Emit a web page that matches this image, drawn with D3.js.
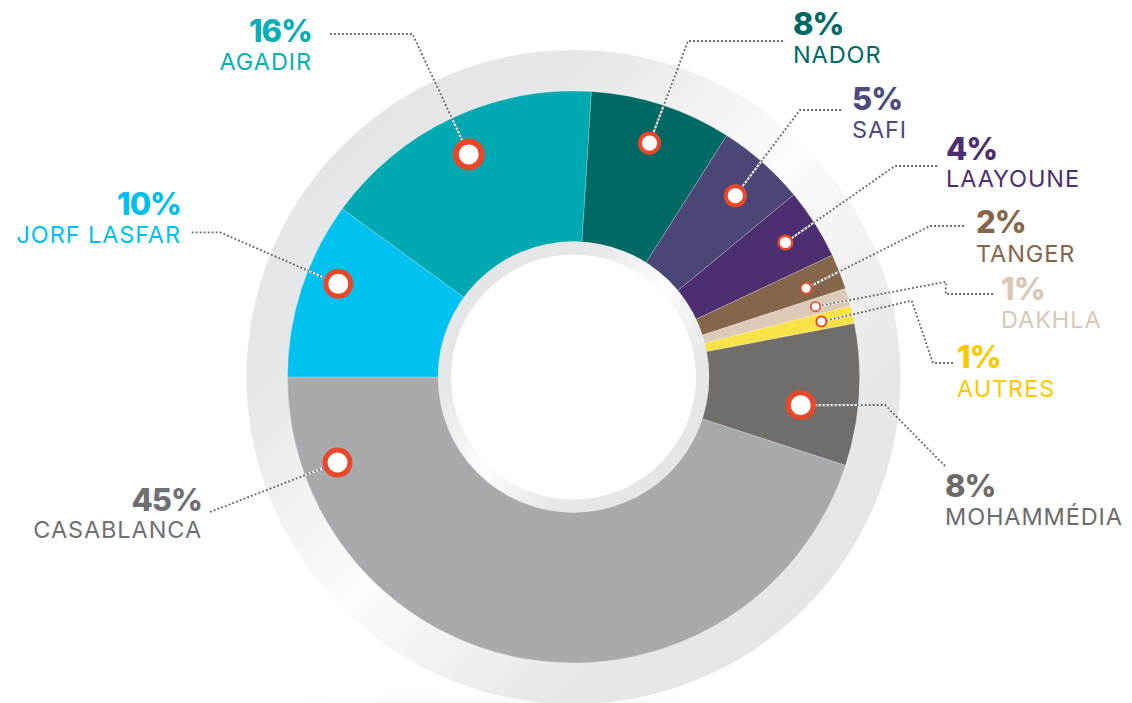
<!DOCTYPE html>
<html>
<head>
<meta charset="utf-8">
<script src="https://cdn.jsdelivr.net/npm/d3@7"></script>
<style>
  html, body { margin: 0; padding: 0; background: #ffffff; }
  svg { display: block; }
  text { font-family: "Inter", "Open Sans", sans-serif; }
</style>
</head>
<body>
<svg id="chart" width="1132" height="703"></svg>
<script>
// ---------- data ----------
const categories = ["AGADIR", "NADOR", "SAFI", "LAAYOUNE", "TANGER", "DAKHLA", "AUTRES", "MOHAMMÉDIA", "CASABLANCA", "JORF LASFAR"];
const shares = [16, 8, 5, 4, 2, 1, 1, 8, 45, 10];
const shareLabels = ["16%", "8%", "5%", "4%", "2%", "1%", "1%", "8%", "45%", "10%"];

// ---------- styles ----------
const sliceColors = ["#00a9b2", "#006963", "#4a4777", "#4b2f70", "#86664b", "#dbcab7", "#f8e246", "#716d6a", "#a8a9ad", "#00c1f0"];
const textColors  = ["#0aaeb6", "#006963", "#4d4a7c", "#4b2f70", "#86664b", "#d9c8b5", "#fcc800", "#6d6b69", "#707073", "#00bff0"];

// ---------- layout (annotation placement) ----------
const W = 1132, H = 703;
const cx = 573.5, cy = 377;
const R_OUTER_RING = 327, R_SLICE = 286, R_SLICE_IN = 128, R_INNER_RING = 135.7, R_HOLE = 122.5;

// marker: t = fraction along slice angle, r = radius, size = ring radius, sw = ring width
// label: anchor, x, yPct, yName ; leader: points from the label side towards the marker
const layout = [
  { t: 0.5,  r: 246, size: 13,  sw: 6,   anchor: "end",   x: 312,  yPct: 42,  yName: 70,  leader: [[330, 34], [412.5, 34]] },
  { t: 0.5,  r: 246, size: 9.6, sw: 4,   anchor: "start", x: 793,  yPct: 35,  yName: 63,  leader: [[783, 41], [688, 41]] },
  { t: 0.52, r: 243, size: 9.6, sw: 4,   anchor: "start", x: 852,  yPct: 110, yName: 138, leader: [[841, 110], [800, 110]] },
  { t: 0.5,  r: 251, size: 6.8, sw: 2.5, anchor: "start", x: 946,  yPct: 160, yName: 187, leader: [[937, 166], [895, 166]] },
  { t: 0.6,  r: 249, size: 5.5, sw: 2,   anchor: "start", x: 976,  yPct: 233, yName: 262, leader: [[964, 226], [930, 226]] },
  { t: 0.5,  r: 252, size: 4.7, sw: 1.7, anchor: "start", x: 1001, yPct: 300, yName: 328, leader: [[993, 294], [945.7, 294], [945.7, 281.7]] },
  { t: 0.5,  r: 254, size: 5,   sw: 2,   anchor: "start", x: 957,  yPct: 368, yName: 397, leader: [[953, 363], [933, 363], [911.7, 300.7]] },
  { t: 0.62, r: 229, size: 12.5, sw: 5,  anchor: "start", x: 945,  yPct: 497, yName: 525, leader: [[945, 466], [885, 405]] },
  { t: 0.877, r: 251, size: 12.5, sw: 5, anchor: "end",   x: 202,  yPct: 511, yName: 538, leader: [[210, 512]] },
  { t: 0.6,  r: 253, size: 12.5, sw: 5,  anchor: "end",   x: 181,  yPct: 215, yName: 243, leader: [[191.7, 232.3], [220, 232.3]] }
];

const svg = d3.select("#chart");
const defs = svg.append("defs");

function diagGradient(id, x1, y1, x2, y2, stops) {
  const g = defs.append("linearGradient").attr("id", id)
    .attr("gradientUnits", "userSpaceOnUse")
    .attr("x1", x1).attr("y1", y1).attr("x2", x2).attr("y2", y2);
  stops.forEach(s => g.append("stop").attr("offset", s[0]).attr("stop-color", s[1]));
}
diagGradient("outerRingGrad", cx - R_OUTER_RING, cy - R_OUTER_RING, cx + R_OUTER_RING, cy + R_OUTER_RING,
  [[0, "#e3e4e5"], [0.27, "#e6e7e8"], [0.5, "#fcfcfc"], [0.73, "#e6e7e8"], [1, "#e3e4e5"]]);
diagGradient("innerRingGrad", cx - R_INNER_RING, cy - R_INNER_RING, cx + R_INNER_RING, cy + R_INNER_RING,
  [[0, "#e3e4e5"], [0.3, "#e6e7e8"], [0.5, "#fdfdfd"], [0.7, "#e6e7e8"], [1, "#e3e4e5"]]);

const blur = defs.append("filter").attr("id", "shadowBlur").attr("x", "-20%").attr("y", "-200%").attr("width", "140%").attr("height", "500%");
blur.append("feGaussianBlur").attr("stdDeviation", 5);

defs.append("clipPath").attr("id", "sliceClip")
  .append("circle").attr("cx", cx).attr("cy", cy).attr("r", R_SLICE);

// shadow below the ring
svg.append("ellipse")
  .attr("cx", cx - 80).attr("cy", H + 3).attr("rx", 200).attr("ry", 7)
  .attr("fill", "#000").attr("opacity", 0.035).attr("filter", "url(#shadowBlur)");

// outer ring
svg.append("circle").attr("cx", cx).attr("cy", cy).attr("r", R_OUTER_RING).attr("fill", "url(#outerRingGrad)");

// pie
const a0 = -0.15 * 2 * Math.PI;
const pie = d3.pie().sort(null).value(d => d).startAngle(a0).endAngle(a0 + 2 * Math.PI);
const arcs = pie(shares);
const arc = d3.arc().innerRadius(R_SLICE_IN).outerRadius(R_SLICE);

const g = svg.append("g").attr("transform", `translate(${cx},${cy})`);
g.selectAll("path.slice").data(arcs).join("path")
  .attr("class", "slice")
  .attr("d", arc)
  .attr("fill", (d, i) => sliceColors[i])
  .attr("stroke", "rgba(255,255,255,0.35)")
  .attr("stroke-width", 0.6);

// inner ring + hole
svg.append("circle").attr("cx", cx).attr("cy", cy).attr("r", R_INNER_RING).attr("fill", "url(#innerRingGrad)");
svg.append("circle").attr("cx", cx).attr("cy", cy).attr("r", R_HOLE).attr("fill", "#ffffff");

// marker positions from the pie layout
const markers = arcs.map((d, i) => {
  const L = layout[i];
  const a = d.startAngle + L.t * (d.endAngle - d.startAngle);
  return { x: cx + L.r * Math.sin(a), y: cy - L.r * Math.cos(a), i };
});

const line = d3.line();
const leaderData = layout.map((L, i) => L.leader.concat([[markers[i].x, markers[i].y]]));

// white underlay for the leaders inside the slices
svg.append("g").attr("clip-path", "url(#sliceClip)")
  .selectAll("path").data(leaderData).join("path")
  .attr("d", d => line(d))
  .attr("fill", "none").attr("stroke", "#ffffff").attr("stroke-width", 2);

// dotted leaders
svg.append("g").selectAll("path").data(leaderData).join("path")
  .attr("d", d => line(d))
  .attr("fill", "none")
  .attr("stroke", "#5e5f61")
  .attr("stroke-width", 1.8)
  .attr("stroke-dasharray", "1.8 2.2");

// markers
svg.append("g").selectAll("circle").data(markers).join("circle")
  .attr("cx", d => d.x).attr("cy", d => d.y)
  .attr("r", d => layout[d.i].size)
  .attr("fill", "#ffffff")
  .attr("stroke", "#e8472a")
  .attr("stroke-width", d => layout[d.i].sw);

// labels
const lab = svg.append("g").selectAll("g").data(categories).join("g");
lab.append("text")
  .attr("x", (d, i) => layout[i].x).attr("y", (d, i) => layout[i].yPct)
  .attr("text-anchor", (d, i) => layout[i].anchor)
  .attr("fill", (d, i) => textColors[i])
  .attr("font-size", 31).attr("font-weight", 800)
  .attr("letter-spacing", -1)
  .text((d, i) => shareLabels[i]);
lab.append("text")
  .attr("x", (d, i) => layout[i].x).attr("y", (d, i) => layout[i].yName)
  .attr("text-anchor", (d, i) => layout[i].anchor)
  .attr("fill", (d, i) => textColors[i])
  .attr("font-size", 23.5).attr("font-weight", 400)
  .attr("letter-spacing", 0.9)
  .text(d => d);
</script>
</body>
</html>
